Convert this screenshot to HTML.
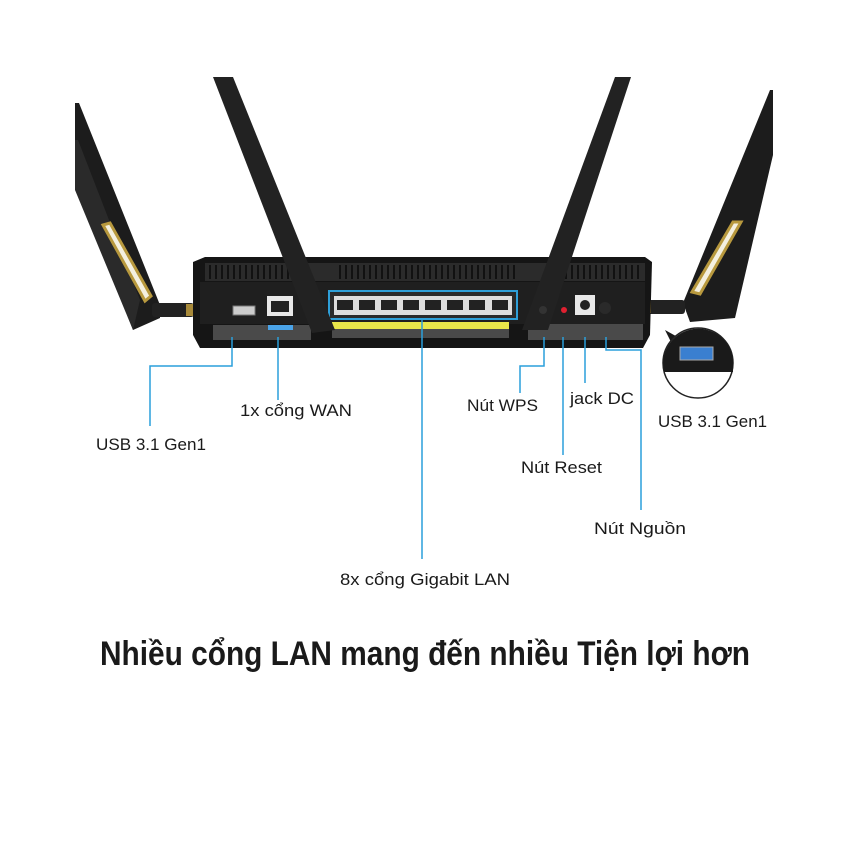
<!DOCTYPE html>
<html><head><meta charset="utf-8"><style>
html,body{margin:0;padding:0;background:#fff;}
svg{display:block}
text{font-family:"Liberation Sans",sans-serif;fill:#1a1a1a;}
</style></head><body>
<svg width="850" height="850" viewBox="0 0 850 850" xmlns="http://www.w3.org/2000/svg">
<rect width="850" height="850" fill="#fff"/>
<!-- left outer antenna -->
<polygon points="75,103 79,103 160,305 160,318 133,330 75,178" fill="#1c1c1c"/>
<polygon points="75,140 78,140 140,300 133,330 75,190" fill="#2a2a2a"/>
<polygon points="103,225 110,223 151,296 145,301" fill="#f4f0e0" stroke="#b8993e" stroke-width="3"/>
<rect x="152" y="303" width="42" height="14" rx="3" fill="#222"/>
<rect x="186" y="304" width="8" height="12" fill="#a88a3a"/>
<!-- right outer antenna -->
<polygon points="770,90 773,90 773,155 735,318 690,322 683,303" fill="#1c1c1c"/>
<polygon points="733,222 741,222 700,294 692,292" fill="#f4f0e0" stroke="#b8993e" stroke-width="3"/>
<rect x="643" y="300" width="42" height="14" rx="3" fill="#222"/>
<rect x="643" y="301" width="8" height="12" fill="#a88a3a"/>
<!-- body -->
<path d="M193,262 L205,257 L645,257 L652,262 L650,335 L643,348 L200,348 L193,335 Z" fill="#151515"/>
<rect x="205" y="263" width="440" height="18" fill="#2b2b2b"/>
<g stroke="#111" stroke-width="2">
<path d="M210,265v14M216,265v14M222,265v14M228,265v14M234,265v14M240,265v14M246,265v14M252,265v14M258,265v14M264,265v14M270,265v14M276,265v14M282,265v14M288,265v14M294,265v14M300,265v14M306,265v14M340,265v14M346,265v14M352,265v14M358,265v14M364,265v14M370,265v14M376,265v14M382,265v14M388,265v14M394,265v14M400,265v14M406,265v14M412,265v14M418,265v14M424,265v14M430,265v14M436,265v14M442,265v14M448,265v14M454,265v14M460,265v14M466,265v14M472,265v14M478,265v14M484,265v14M490,265v14M496,265v14M502,265v14M508,265v14M514,265v14M560,265v14M566,265v14M572,265v14M578,265v14M584,265v14M590,265v14M596,265v14M602,265v14M608,265v14M614,265v14M620,265v14M626,265v14M632,265v14M638,265v14"/>
</g>
<rect x="200" y="282" width="445" height="42" fill="#1f1f1f"/>
<rect x="213" y="325" width="98" height="15" fill="#4a4a4a"/>
<rect x="332" y="323" width="177" height="15" fill="#4a4a4a"/>
<rect x="332" y="322" width="177" height="7" fill="#e8e64a"/>
<rect x="528" y="324" width="115" height="16" fill="#4a4a4a"/>
<!-- USB & WAN -->
<rect x="233" y="306" width="22" height="9" fill="#ccc" stroke="#777"/>
<rect x="267" y="296" width="26" height="20" fill="#e8e8e8"/>
<rect x="271" y="301" width="18" height="11" fill="#222"/>
<rect x="268" y="325" width="25" height="5" fill="#4aa3e8"/>
<!-- LAN -->
<rect x="329" y="291" width="188" height="28" fill="#2a2a2a" stroke="#2e9fd8" stroke-width="2"/>
<g fill="#ddd">
<rect x="334" y="296" width="22" height="19"/><rect x="356" y="296" width="22" height="19"/><rect x="378" y="296" width="22" height="19"/><rect x="400" y="296" width="22" height="19"/><rect x="422" y="296" width="22" height="19"/><rect x="444" y="296" width="22" height="19"/><rect x="466" y="296" width="22" height="19"/><rect x="488" y="296" width="24" height="19"/>
</g>
<g fill="#222">
<rect x="337" y="300" width="16" height="10"/><rect x="359" y="300" width="16" height="10"/><rect x="381" y="300" width="16" height="10"/><rect x="403" y="300" width="16" height="10"/><rect x="425" y="300" width="16" height="10"/><rect x="447" y="300" width="16" height="10"/><rect x="469" y="300" width="16" height="10"/><rect x="492" y="300" width="16" height="10"/>
</g>
<!-- inner antennas -->
<polygon points="213,77 233,77 335,330 312,333" fill="#222"/>
<polygon points="615,77 631,77 548,330 522,330" fill="#222"/>
<!-- right controls -->
<circle cx="543" cy="310" r="4" fill="#333"/>
<circle cx="564" cy="310" r="3" fill="#e02030"/>
<rect x="575" y="295" width="20" height="20" fill="#e8e8e8"/>
<circle cx="585" cy="305" r="5" fill="#222"/>
<circle cx="605" cy="308" r="6" fill="#2a2a2a"/>
<!-- USB inset -->
<polygon points="665,330 683,340 675,350" fill="#1a1a1a"/>
<circle cx="698" cy="363" r="35" fill="#fff" stroke="#222" stroke-width="1.5"/>
<path d="M663.2,363 A35,35 0 0 1 733,360 L733,372 L664,372 Z" fill="#1a1a1a"/>
<rect x="680" y="347" width="33" height="13" fill="#3a7fd0" stroke="#aaa"/>
<!-- connector lines -->
<g stroke="#2a9fdb" stroke-width="1.5" fill="none">
<path d="M232,337V366H150V426"/>
<path d="M278,337V400"/>
<path d="M422,319V559"/>
<path d="M544,337V366H520V393"/>
<path d="M563,337V455"/>
<path d="M585,337V383"/>
<path d="M606,337V350H641V510"/>
</g>
<!-- labels -->
<g font-size="17">
<text x="96" y="450" textLength="110" lengthAdjust="spacingAndGlyphs">USB 3.1 Gen1</text>
<text x="240" y="416" textLength="112" lengthAdjust="spacingAndGlyphs">1x cổng WAN</text>
<text x="467" y="411" textLength="71" lengthAdjust="spacingAndGlyphs">Nút WPS</text>
<text x="570" y="404" textLength="64" lengthAdjust="spacingAndGlyphs">jack DC</text>
<text x="658" y="427" textLength="109" lengthAdjust="spacingAndGlyphs">USB 3.1 Gen1</text>
<text x="521" y="473" textLength="81" lengthAdjust="spacingAndGlyphs">Nút Reset</text>
<text x="594" y="534" textLength="92" lengthAdjust="spacingAndGlyphs">Nút Nguồn</text>
<text x="340" y="585" textLength="170" lengthAdjust="spacingAndGlyphs">8x cổng Gigabit LAN</text>
</g>
<text x="100" y="665" font-size="34" font-weight="bold" textLength="650" lengthAdjust="spacingAndGlyphs">Nhiều cổng LAN mang đến nhiều Tiện lợi hơn</text>
</svg>
</body></html>
